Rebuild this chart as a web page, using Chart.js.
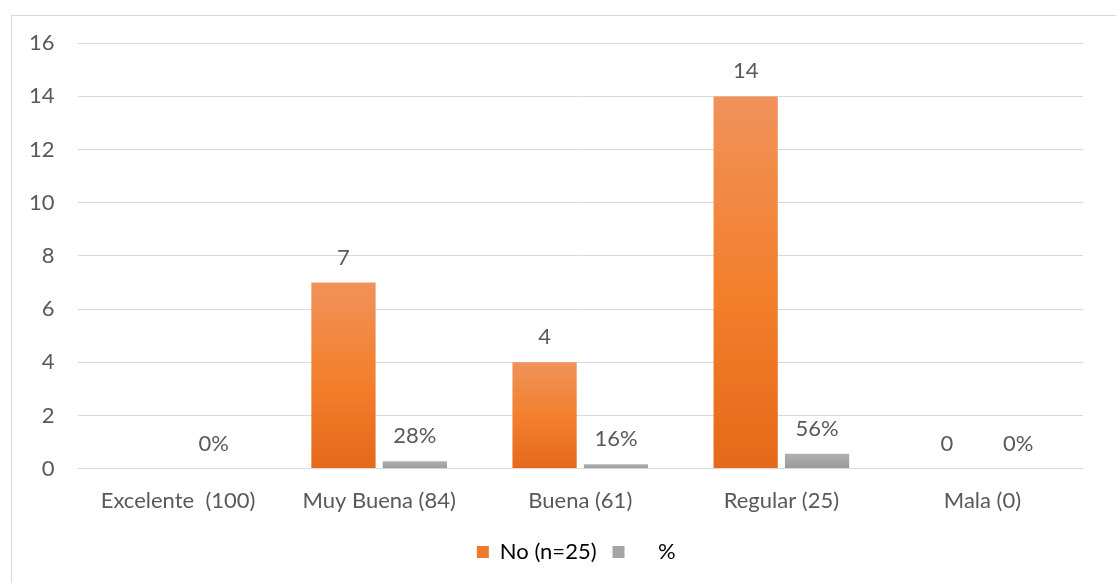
<!DOCTYPE html>
<html>
<head>
<meta charset="utf-8">
<script src="https://cdn.jsdelivr.net/npm/chart.js@4.4.0/dist/chart.umd.min.js"></script>
<style>
  body { margin: 0; background: #fff; overflow: hidden; }
  #frame { position: absolute; left: 11px; top: 15px; width: 1130px; height: 600px; border: 1px solid #d9d9d9; }
  #chart { display: block; position: absolute; left: -6px; top: -9px; }
</style>
</head>
<body>
<div id="frame"><canvas id="chart" width="1104" height="576"></canvas></div>
<script>
// Categories and values
const categories = ["Excelente  (100)", "Muy Buena (84)", "Buena (61)", "Regular (25)", "Mala (0)"];
const countValues = [null, 7, 4, 14, 0];
const percentValues = [0, 0.28, 0.16, 0.56, 0];
const countLabel = "No (n=25)";
const percentLabel = "    %";
const yTicks = [0, 2, 4, 6, 8, 10, 12, 14, 16];

const textColor = "#595959";
const fontFamily = "Lato, 'Open Sans', sans-serif";
const fontSize = 22;

// vertical gradient per bar, lighter at the top of each bar
function barGradient(c, top, mid, bottom) {
    const y = c.chart.scales.y;
    if (!y || c.raw === null || c.raw === undefined) return mid;
    const y0 = y.getPixelForValue(c.raw);
    const y1 = y.getPixelForValue(0);
    if (!isFinite(y0) || !isFinite(y1) || y1 - y0 < 1) return mid;
    const g = c.chart.ctx.createLinearGradient(0, y0, 0, y1);
    g.addColorStop(0, top);
    g.addColorStop(0.5, mid);
    g.addColorStop(1, bottom);
    return g;
}

// draw values above the bars
const valueLabels = {
    id: "valueLabels",
    afterDatasetsDraw(chart) {
        const ctx = chart.ctx;
        ctx.save();
        ctx.fillStyle = textColor;
        ctx.font = fontSize + "px " + fontFamily;
        ctx.textAlign = "center";
        ctx.textBaseline = "middle";
        chart.data.datasets.forEach((ds, i) => {
            chart.getDatasetMeta(i).data.forEach((bar, j) => {
                const v = ds.data[j];
                if (v === null) return;
                const txt = i === 0 ? String(v) : Math.round(v * 100) + "%";
                ctx.fillText(txt, bar.x, bar.y - 25);
            });
        });
        ctx.restore();
    }
};

// center the legend under the plot area instead of the whole canvas
const centerLegend = {
    id: "centerLegend",
    beforeDraw(chart) {
        const lg = chart.legend;
        if (!lg || lg._shifted) return;
        const mid = (chart.chartArea.left + chart.chartArea.right) / 2 - 4;
        const dx = mid - (lg.left + lg.right) / 2;
        lg.left += dx;
        lg.right += dx;
        lg._shifted = true;
    }
};

new Chart(document.getElementById("chart"), {
    type: "bar",
    data: {
        labels: categories,
        datasets: [
            {
                label: countLabel,
                data: countValues,
                backgroundColor: c => barGradient(c, "#f0925a", "#f3802e", "#e5691a"),
                borderWidth: 0,
                barPercentage: 0.9,
                categoryPercentage: 0.71
            },
            {
                label: percentLabel,
                data: percentValues,
                backgroundColor: c => barGradient(c, "#b0b0b0", "#a5a5a5", "#989898"),
                borderWidth: 0,
                barPercentage: 0.9,
                categoryPercentage: 0.71
            }
        ]
    },
    options: {
        responsive: false,
        animation: false,
        layout: { padding: { top: 8, right: 27, left: 0, bottom: 10 } },
        plugins: {
            tooltip: { enabled: false },
            legend: {
                position: "bottom",
                labels: {
                    color: textColor,
                    font: { size: fontSize, family: fontFamily },
                    boxWidth: 12,
                    boxHeight: 12,
                    padding: 16,
                    generateLabels(chart) {
                        return chart.data.datasets.map((ds, i) => ({
                            text: ds.label,
                            fillStyle: i === 0 ? "#ef7a30" : "#a5a5a5",
                            strokeStyle: "transparent",
                            lineWidth: 0,
                            datasetIndex: i
                        }));
                    }
                }
            }
        },
        scales: {
            x: {
                grid: { display: false },
                border: { display: false },
                ticks: { color: textColor, font: { size: fontSize, family: fontFamily }, padding: 11 }
            },
            y: {
                min: 0,
                max: 16,
                afterBuildTicks: axis => { axis.ticks = yTicks.map(v => ({ value: v })); },
                grid: { color: "#d9d9d9", lineWidth: 1, drawTicks: false },
                border: { display: false },
                ticks: { color: textColor, font: { size: fontSize, family: fontFamily }, padding: 23 }
            }
        }
    },
    plugins: [valueLabels, centerLegend]
});
</script>
</body>
</html>
